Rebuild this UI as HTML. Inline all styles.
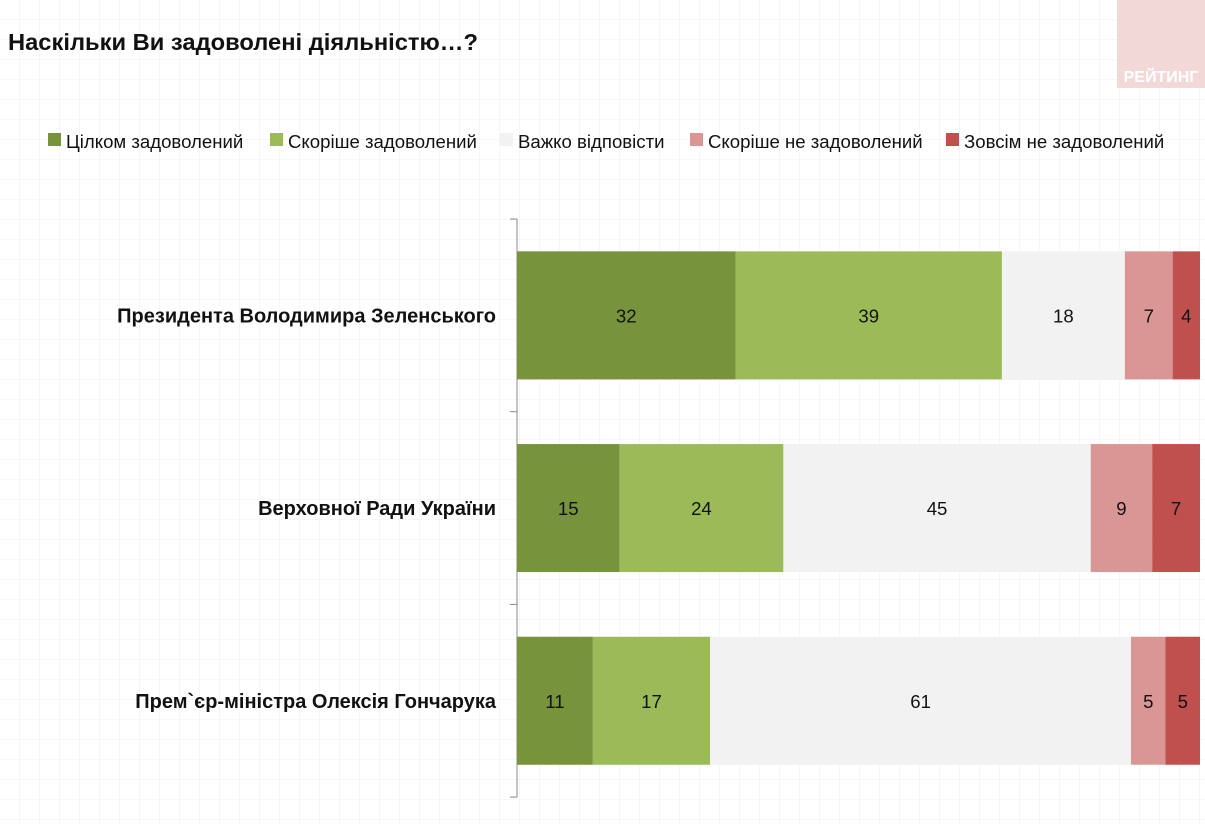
<!DOCTYPE html>
<html><head><meta charset="utf-8"><style>
body{margin:0;background:#fff}
svg{display:block;font-family:"Liberation Sans",sans-serif}
</style></head><body>
<svg id="c" width="1205" height="824" viewBox="0 0 1205 824" xmlns="http://www.w3.org/2000/svg">
<defs><pattern id="g" width="20" height="20" patternUnits="userSpaceOnUse"><path d="M20 0V20M0 20H20" stroke="#efefef" stroke-width="1" fill="none"/></pattern></defs>
<rect width="1205" height="824" fill="url(#g)"/>
<rect x="1117" y="0" width="88" height="88" fill="#f3d8d8"/>
<text x="1161" y="82" text-anchor="middle" font-size="16" font-weight="bold" fill="#fff">РЕЙТИНГ</text>
<text x="8" y="50" font-size="23" font-weight="bold" fill="#111" textLength="470" lengthAdjust="spacingAndGlyphs">Наскільки Ви задоволені діяльністю…?</text>
<g id="legend"></g>
<g id="plot"></g>
</svg>
<script>
const categories=["Президента Володимира Зеленського","Верховної Ради України","Прем`єр-міністра Олексія Гончарука"];
const seriesNames=["Цілком задоволений","Скоріше задоволений","Важко відповісти","Скоріше не задоволений","Зовсім не задоволений"];
const s1=[32,15,11];
const s2=[39,24,17];
const s3=[18,45,61];
const s4=[7,9,5];
const s5=[4,7,5];
const series=[s1,s2,s3,s4,s5];
const colors=["#77933c","#9bbb59","#f2f2f2","#d99694","#c0504d"];
const NS="http://www.w3.org/2000/svg";
function mk(t,a,p){const e=document.createElementNS(NS,t);for(const k in a)e.setAttribute(k,a[k]);p.appendChild(e);return e;}
const plot=document.getElementById('plot'),leg=document.getElementById('legend');
const x0=517,x1=1200,yTop=219,band=192.7,barH=128;
const xs=v=>x0+v*(x1-x0)/100;
const legX=[48,270,500,690,946];
seriesNames.forEach((n,i)=>{
 const r=mk('rect',{x:legX[i],y:133,width:13,height:13,fill:colors[i]},leg);
 
 
 const t=mk('text',{x:legX[i]+18,y:148,'font-size':18.6,fill:'#111'},leg);t.textContent=n;
 
 
});
const ax=mk('line',{x1:x0,x2:x0,y1:yTop,y2:yTop+band*3,stroke:'#888'},plot);


for(let i=0;i<=3;i++){const tk=mk('line',{x1:x0-7,x2:x0,y1:yTop+band*i,y2:yTop+band*i,stroke:'#888'},plot);
 
 }
categories.forEach((c,ci)=>{
 const yc=yTop+band*(ci+0.5),y=yc-barH/2;
 const lab=mk('text',{x:496,y:yc+7,'text-anchor':'end','font-size':20,'font-weight':'bold',fill:'#111'},plot);lab.textContent=c;
 
 
 const tot=series.reduce((a,s)=>a+s[ci],0);let acc=0;
 series.forEach((s,si)=>{
  const v=s[ci]*100/tot;const xa=xs(acc),xb=xs(acc+v);acc+=v;
  const r=mk('rect',{x:xa,y:y,width:xb-xa,height:barH,fill:colors[si]},plot);
  
  
  const t=mk('text',{x:(xa+xb)/2,y:yc+7,'text-anchor':'middle','font-size':18.6,fill:'#111'},plot);t.textContent=s[ci];
  
  
 });
});
</script>
</body></html>
